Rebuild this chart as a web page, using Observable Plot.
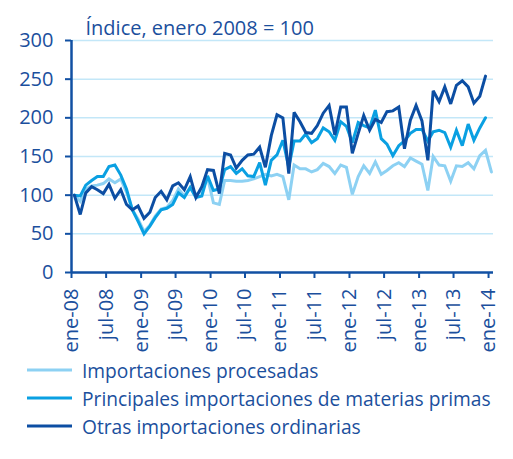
<!DOCTYPE html>
<html>
<head>
<meta charset="utf-8">
<script src="https://cdn.jsdelivr.net/npm/d3@7"></script>
<script src="https://cdn.jsdelivr.net/npm/@observablehq/plot@0.6"></script>
<style>
  html, body { margin: 0; padding: 0; background: #fff; }
  body { width: 513px; height: 459px; overflow: hidden; font-family: "Open Sans", sans-serif; color: #1b4f9d; }
  #legend { margin-left: 27px; margin-top: 1px; }
  .row { display: flex; align-items: center; height: 28px; font-size: 19.2px; }
  .row svg { width: 45px; height: 4px; margin-right: 10px; }
</style>
</head>
<body>
<div id="chart"></div>
<div id="legend"></div>
<script>
// Monthly series, ene-08 onward (index 0 = enero 2008)
const procesadas = [100, 92, 108, 112, 113, 115, 121, 116, 121, 104, 81, 69,
  53, 61, 73, 82, 84, 93, 108, 99, 110, 101, 105, 123,
  90, 88, 119, 119, 118, 118, 119, 121, 124, 127, 125, 127,
  124, 94, 139, 134, 134, 130, 133, 141, 137, 128, 139, 136,
  101, 124, 138, 128, 143, 127, 132, 138, 142, 137, 148, 144,
  140, 106, 150, 139, 138, 118, 138, 137, 142, 134, 151, 158,
  130];
const materiasPrimas = [100, 99, 113, 119, 124, 124, 137, 139, 126, 108, 81, 66,
  50, 60, 71, 81, 83, 88, 103, 97, 110, 97, 99, 125,
  106, 108, 133, 137, 128, 134, 125, 124, 142, 113, 145, 152,
  171, 136, 170, 170, 179, 168, 173, 187, 182, 171, 195, 189,
  168, 194, 190, 187, 210, 173, 166, 151, 164, 170, 180, 185,
  185, 170, 182, 184, 181, 162, 184, 164, 192, 171, 187, 200];
const otras = [100, 75, 103, 111, 107, 102, 114, 96, 107, 88, 81, 86,
  70, 78, 97, 105, 94, 112, 116, 107, 124, 97, 111, 133,
  132, 102, 154, 152, 135, 145, 152, 153, 162, 136, 177, 204,
  200, 128, 207, 195, 181, 180, 190, 206, 216, 178, 214, 214,
  154, 180, 203, 184, 198, 194, 208, 209, 214, 160, 197, 216,
  196, 145, 235, 221, 240, 218, 242, 248, 240, 219, 228, 254];
const tickLabels = ["ene-08", "jul-08", "ene-09", "jul-09", "ene-10", "jul-10",
  "ene-11", "jul-11", "ene-12", "jul-12", "ene-13", "jul-13", "ene-14"];
const yTicks = [0, 50, 100, 150, 200, 250, 300];
const seriesNames = ["Importaciones procesadas", "Principales importaciones de materias primas", "Otras importaciones ordinarias"];
const title = "Índice, enero 2008 = 100";

const colors = ["#8dd1f3", "#0aa0e2", "#0c4ea3"];
const textColor = "#1b4f9d";
const axisColor = "#1150a3";
const gridColor = "#c3e7f8";

const monthDate = i => new Date(Date.UTC(2008, i, 16));
const tickDates = tickLabels.map((_, k) => new Date(Date.UTC(2008, k * 6, 1)));
const labelOf = new Map(tickDates.map((d, k) => [+d, tickLabels[k]]));

const rows = [];
[procesadas, materiasPrimas, otras].forEach((arr, s) => {
  arr.forEach((v, i) => rows.push({series: seriesNames[s], date: monthDate(i), value: v}));
});

const xStart = new Date(Date.UTC(2008, 0, 1));
const chart = Plot.plot({
  width: 513,
  height: 355,
  marginLeft: 71,
  marginRight: 20,
  marginTop: 40,
  marginBottom: 83,
  style: {fontFamily: "Open Sans, sans-serif", color: textColor, background: "transparent", overflow: "visible"},
  x: {type: "utc", domain: [xStart, new Date(Date.UTC(2014, 0, 27))]},
  y: {domain: [0, 300]},
  color: {domain: seriesNames, range: colors},
  marks: [
    Plot.gridY(yTicks.slice(1), {stroke: gridColor, strokeOpacity: 1, strokeWidth: 1.5}),
    Plot.line(rows, {x: "date", y: "value", z: "series", stroke: "series", strokeWidth: 3, strokeLinejoin: "miter", strokeMiterlimit: 3}),
    Plot.ruleY([0], {stroke: axisColor, strokeWidth: 2.5}),
    Plot.ruleX([xStart], {stroke: axisColor, strokeWidth: 2.5}),
    Plot.axisY({ticks: yTicks, tickSize: 6, tickPadding: 12, fontSize: 20, fill: textColor, stroke: axisColor, strokeWidth: 2, label: null}),
    Plot.axisX({ticks: tickDates, tickFormat: d => labelOf.get(+d), tickSize: 6, tickPadding: 10, tickRotate: -90, fontSize: 20, fill: textColor, stroke: axisColor, strokeWidth: 2, label: null}),
    Plot.text([title], {frameAnchor: "top-left", dx: 14, dy: -20, text: d => d, fontSize: 20, fill: textColor, textAnchor: "start"})
  ]
});
document.getElementById("chart").appendChild(chart);

const legend = document.getElementById("legend");
seriesNames.forEach((name, s) => {
  const row = document.createElement("div");
  row.className = "row";
  row.innerHTML = `<svg viewBox="0 0 45 4"><line x1="0" y1="2" x2="45" y2="2" stroke="${colors[s]}" stroke-width="3"/></svg><span>${name}</span>`;
  legend.appendChild(row);
});
</script>
</body>
</html>
